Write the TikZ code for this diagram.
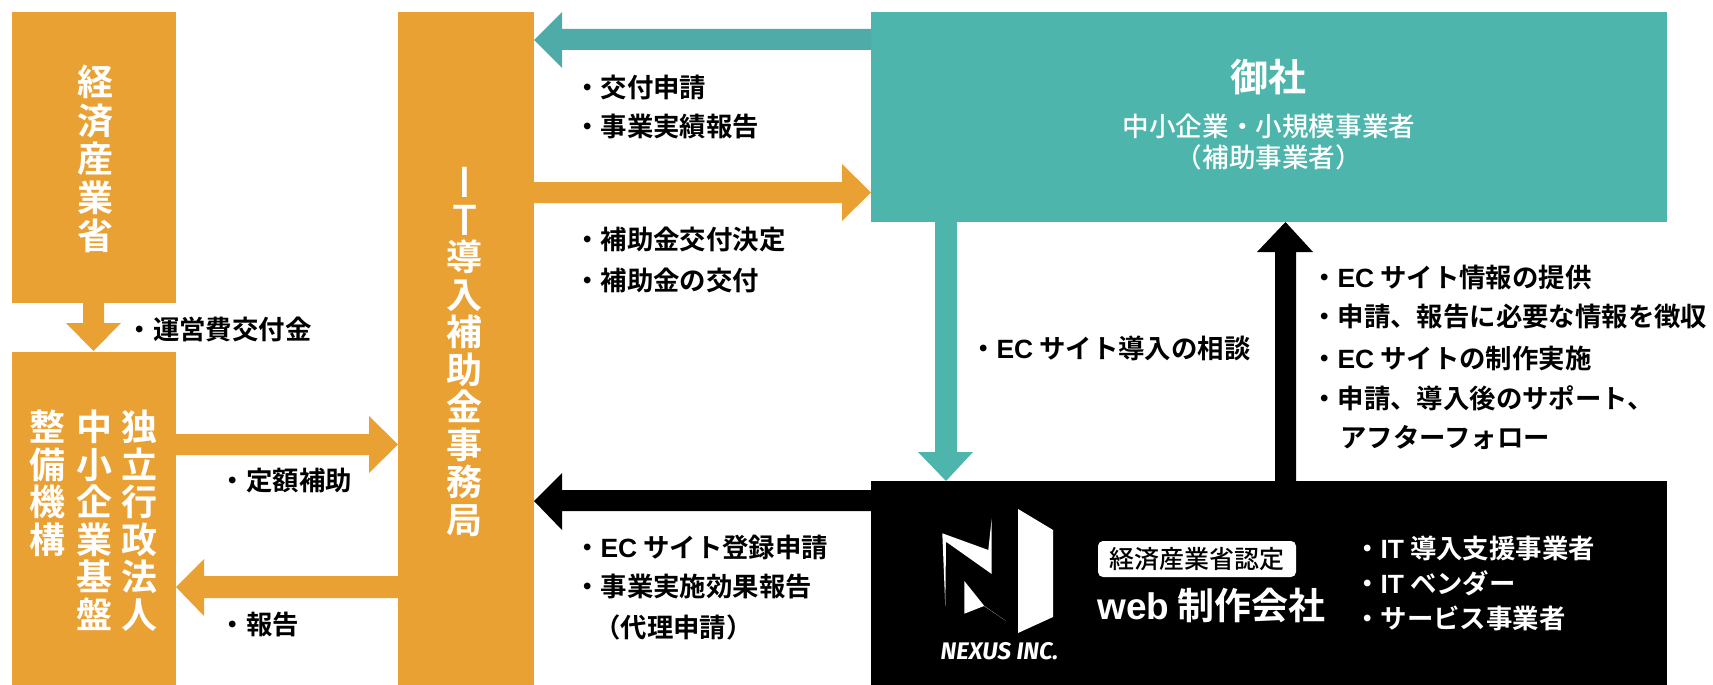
\documentclass[tikz,border=0pt]{standalone}
\usepackage{fontspec}
\setmainfont{Noto Sans CJK JP}[BoldFont={Noto Sans CJK JP Bold}]
\newfontfamily\medf{Noto Sans CJK JP Medium}
\newfontfamily\latinfont{Fira Sans}[ItalicFont={Fira Sans Bold Italic}]
\newfontfamily\arialf{Liberation Sans}[BoldFont={Liberation Sans Bold}]
\newcommand{\lf}[1]{{\arialf\bfseries #1}}
\definecolor{orangec}{HTML}{EAA133}
\definecolor{tealc}{HTML}{4DB5AC}
\definecolor{tealar}{HTML}{4FABA8}
\tikzset{
  lab/.style={anchor=west,inner sep=0pt,font=\fontsize{26.4}{36}\selectfont\bfseries,text=black,align=left},
  vert/.style={anchor=north,inner sep=0pt,text=white,align=center,font=\fontsize{36}{37.5}\selectfont\bfseries},
  wh/.style={inner sep=0pt,text=white,align=center,font=\medf},
}
\begin{document}
\begin{tikzpicture}[x=1pt,y=-1pt]
\useasboundingbox (0,0) rectangle (1713,685);
% boxes
\fill[orangec] (12,12) rectangle (176,303);
\fill[orangec] (12,352) rectangle (176,685);
\fill[orangec] (398,12) rectangle (534,685);
\fill[tealc] (871,12) rectangle (1667,222);
\fill[black] (871,481) rectangle (1667,685);
% arrows
\fill[orangec] (83,303)--(104,303)--(104,323)--(121,323)--(93.5,351)--(66,323)--(83,323)--cycle;
\fill[orangec] (176,434)--(369,434)--(369,416)--(398,444.5)--(369,473)--(369,455)--(176,455)--cycle;
\fill[orangec] (398,576)--(204,576)--(204,559)--(176,587)--(204,616)--(204,598)--(398,598)--cycle;
\fill[tealar] (871,29)--(562,29)--(562,12)--(534,40)--(562,68)--(562,50)--(871,50)--cycle;
\fill[orangec] (534,182)--(842,182)--(842,164)--(871,192.5)--(842,221)--(842,203)--(534,203)--cycle;
\fill[black] (871,490)--(562,490)--(562,473)--(534,501)--(562,530)--(562,511)--(871,511)--cycle;
\fill[tealc] (935,222)--(957,222)--(957,452)--(973,452)--(946,481)--(918,452)--(935,452)--cycle;
\fill[black] (1275,481)--(1296,481)--(1296,252)--(1313,252)--(1285.5,222)--(1257,252)--(1275,252)--cycle;
% vertical texts
\node[vert,font=\fontsize{36}{38.5}\selectfont\bfseries] (v1) at (95,65) {経\\済\\産\\業\\省};
\node[vert] (v2) at (139,410) {独\\立\\行\\政\\法\\人};
\node[vert] (v3) at (94,410) {中\\小\\企\\業\\基\\盤};
\node[vert] (v4) at (47.5,410) {整\\備\\機\\構};
\node[wh,anchor=north,font=\fontsize{41}{37.5}\selectfont\medf] (it) at (465,167.5) {I\\T};
\node[vert] (v5) at (464,240) {導\\入\\補\\助\\金\\事\\務\\局};
% teal box
\node[wh,font=\fontsize{38}{40}\selectfont\bfseries] (t1) at (1268,77) {御社};
\node[wh,font=\fontsize{26.6}{31}\selectfont\medf] (t2) at (1269,142) {中小企業・小規模事業者\\（補助事業者）};
% labels
\node[lab] (l1) at (574,87) {・交付申請};
\node[lab] (l2) at (574,127) {・事業実績報告};
\node[lab] (l3) at (574,240) {・補助金交付決定};
\node[lab] (l4) at (574,280) {・補助金の交付};
\node[lab] (l5) at (126.5,329) {・運営費交付金};
\node[lab] (l6) at (219.6,481) {・定額補助};
\node[lab] (l7) at (219.6,625) {・報告};
\node[lab] (l8) at (574,547) {・\lf{EC} サイト登録申請};
\node[lab] (l9) at (574,587) {・事業実施効果報告};
\node[lab] (l10) at (594,627) {（代理申請）};
\node[lab] (l11) at (970,348) {・\lf{EC} サイト導入の相談};
\node[lab] (l12) at (1311,277) {・\lf{EC} サイト情報の提供};
\node[lab] (l13) at (1311,317) {・申請、報告に必要な情報を徴収};
\node[lab] (l14) at (1311,358) {・\lf{EC} サイトの制作実施};
\node[lab] (l15) at (1311,398) {・申請、導入後のサポート、};
\node[lab] (l16) at (1340,438) {アフターフォロー};
\node[lab,text=white] (l17) at (1354,548) {・\lf{IT} 導入支援事業者};
\node[lab,text=white] (l18) at (1354,583) {・\lf{IT} ベンダー};
\node[lab,text=white] (l19) at (1354,618) {・サービス事業者};
% logo
\fill[white] (1018,509)--(1053,530)--(1053,617)--(1018,633)--cycle;
\fill[white] (942.3,533.3)--(988.3,550)--(991.7,518.3)--(991.7,574)--(946,541.7)--(945.3,606.7)--cycle;
\fill[white] (964.3,581)--(984.3,606)--(1005.7,620.7)--(984,606)--(964.3,613.7)--cycle;
\node[inner sep=0pt,text=white,font=\latinfont\fontsize{24}{24}\selectfont\itshape] (nx) at (999.6,651) {NEXUS INC.};
% pill
\node[fill=white,rounded corners=5pt,inner sep=0pt,minimum width=198pt,minimum height=36pt,text=black,font=\fontsize{25}{25}\selectfont\medf] (pill) at (1197,559) {経済産業省認定};
\node[wh,font=\fontsize{37}{37}\selectfont\bfseries] (web) at (1211.6,605) {\lf{web} 制作会社};
\end{tikzpicture}
\end{document}
